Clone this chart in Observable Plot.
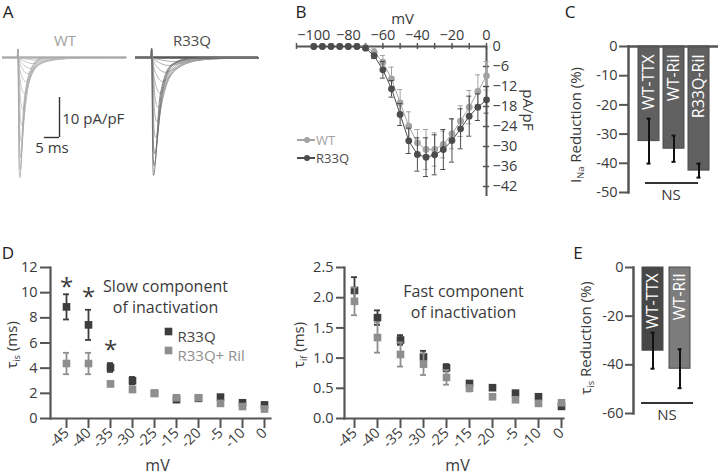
<!DOCTYPE html>
<html><head><meta charset="utf-8">
<script src="https://cdn.jsdelivr.net/npm/d3@7"></script>
<script src="https://cdn.jsdelivr.net/npm/@observablehq/plot@0.6"></script>
<style>
html,body{margin:0;padding:0;background:#fff;}
#root{position:relative;width:720px;height:475px;overflow:hidden;font-family:'Open Sans',sans-serif;color:#3a3a3a;background:#fff;}
.lbl{position:absolute;white-space:nowrap;line-height:1;}
.lbl sub{font-size:62%;vertical-align:-0.35em;line-height:0;}
</style></head><body><div id="root"></div>
<script>
// ---------- Panel A: current traces (t in ms, I in pA/pF) ----------
const wtTraces = [
  [[0,0],[4.9,0],[5.05,2],[5.3,0],[8,-0.4],[12,-0.7],[18,-0.4],[26,-0.1],[35,0],[41,0]],
  [[0,0],[4.9,0],[5.05,2],[5.3,0],[7.5,-1.0],[10,-1.5],[15,-0.8],[22,-0.25],[32,0],[41,0]],
  [[0,0],[4.9,0],[5.05,2],[5.3,0],[7,-1.8],[9,-2.7],[13,-1.4],[19,-0.4],[28,0],[41,0]],
  [[0,0],[4.9,0],[5.05,2],[5.3,0],[6.6,-2.8],[8.3,-4],[11.5,-2],[17,-0.5],[25,0],[41,0]],
  [[0,0],[4.9,0],[5.05,2],[5.3,-0.5],[6.3,-4.5],[7.7,-6],[10.5,-2.8],[15.5,-0.7],[22,0],[41,0]],
  [[0,0],[4.9,0],[5.05,2],[5.3,-1],[6.1,-7],[7.2,-9],[9.8,-4],[14,-1],[20,0],[41,0]],
  [[0,0],[4.9,0],[5.05,2],[6.0,-11],[6.8,-13],[9,-5.5],[13,-1.2],[18,0],[41,0]],
  [[0,0],[4.9,0],[5.05,2],[5.9,-15],[6.5,-17],[8.5,-7],[12,-1.5],[16,0],[41,0]],
  [[0,0],[4.9,0],[5.05,2],[5.8,-19],[6.2,-21],[8.0,-8.5],[11,-2],[15,0],[41,0]],
  [[0,0],[4.9,0],[5.05,2],[5.7,-23],[6.0,-25],[7.6,-10],[10.5,-2.2],[14,0],[41,0]],
  [[0,0],[4.9,0],[5.05,2],[5.6,-26],[5.9,-28],[7.3,-11],[10,-2.4],[13.5,0],[41,0]],
  [[0,0],[4.9,0],[5.05,2],[5.5,-28],[5.75,-30],[7.0,-12],[9.6,-2.5],[13,0],[41,0]]
];
const r33qTraces = [
  [[0,0],[5.2,0],[5.35,2.2],[5.6,0],[8.5,-0.6],[12.5,-1],[19,-0.6],[28,-0.25],[41,-0.1]],
  [[0,0],[5.2,0],[5.35,2.2],[5.6,0],[8,-1.3],[11,-2],[17,-1.1],[25,-0.4],[41,-0.1]],
  [[0,0],[5.2,0],[5.35,2.2],[5.6,0],[7.5,-2.6],[10,-3.7],[15,-2],[22,-0.6],[32,-0.15],[41,-0.1]],
  [[0,0],[5.2,0],[5.35,2.2],[5.6,-0.5],[7,-4.3],[9,-6],[13.5,-3],[20,-0.8],[30,-0.2],[41,-0.1]],
  [[0,0],[5.2,0],[5.35,2.2],[5.6,-1],[6.8,-7],[8.2,-9],[12,-4.2],[18,-1],[27,-0.2],[41,-0.1]],
  [[0,0],[5.2,0],[5.35,2.2],[6.6,-10.5],[7.6,-12.5],[11,-5.5],[16.5,-1.2],[25,-0.2],[41,-0.1]],
  [[0,0],[5.2,0],[5.35,2.2],[6.4,-14],[7.1,-16],[10.2,-6.5],[15,-1.4],[23,-0.2],[41,-0.1]],
  [[0,0],[5.2,0],[5.35,2.2],[6.2,-18],[6.7,-20],[9.5,-7.5],[14,-1.5],[21,-0.2],[41,-0.1]],
  [[0,0],[5.2,0],[5.35,2.2],[6.0,-22],[6.4,-24],[9,-8.5],[13,-1.6],[20,-0.2],[41,-0.1]],
  [[0,0],[5.2,0],[5.35,2.2],[5.9,-25],[6.2,-27],[8.6,-9],[12.5,-1.7],[19,-0.2],[41,-0.1]],
  [[0,0],[5.2,0],[5.35,2.2],[5.8,-27.5],[6.0,-29.5],[8.2,-9.5],[12,-1.8],[18,-0.2],[41,-0.1]]
];
const scaleBarMs = 5, scaleBarPA = 10;

// ---------- Panel B: I-V ----------
const bVoltages = [-100,-95,-90,-85,-80,-75,-70,-65,-60,-55,-50,-45,-40,-35,-30,-25,-20,-15,-10,-5,0];
const bWT     = [0,0,0,0,0,0,-0.3,-1.7,-4.7,-9.7,-16.9,-23.9,-28.9,-30.9,-30.9,-29.4,-26.2,-22.4,-18.2,-13.5,-8.8];
const bWTerr  = [0,0,0,0,0,0,0.3,1,2,3.5,4,4.3,4,6,5,4,4.5,4.6,5,5,4.3];
const bR33Q    = [0,0,0,0,0,0,-0.5,-2.8,-7,-12.7,-20.4,-28.3,-32.4,-33.2,-32.5,-30.9,-28.2,-24.7,-20.9,-18.2,-16];
const bR33Qerr = [0,0,0,0,0,0,0.3,0.8,2.5,2.5,3.3,3.8,5,5.8,6,6,6.5,6,6,4,4];
const bTickMarksX = [-110,-100,-90,-80,-70,-60,-50,-40,-30,-20,-10,0];
const bTickLabelsX = [-100,-80,-60,-40,-20,0];
const bTicksY = [0,-6,-12,-18,-24,-30,-36,-42];

// ---------- Panel C ----------
const cCats = ["WT-TTX","WT-Ril","R33Q-Ril"];
const cVals = [-32.4,-35,-42.5];
const cErr  = [7.7,4.5,2.4];
const cTicks = [0,-10,-20,-30,-40,-50];

// ---------- Panel D ----------
const dVoltages = ["-45","-40","-35","-30","-25","-15","-20","-5","-10","0"];
const dSlowR33Q    = [8.87,7.44,4.05,3.0,2.0,1.5,1.6,1.7,1.25,1.08];
const dSlowR33QErr = [1.0,1.2,0.35,0.3,0.1,0.2,0.1,0.1,0.1,0.1];
const dSlowRil     = [4.37,4.37,2.75,2.3,2.0,1.65,1.65,1.2,0.95,0.75];
const dSlowRilErr  = [0.85,0.85,0.2,0.15,0.1,0.1,0.1,0.15,0.1,0.1];
const dSlowTicks = [0,2,4,6,8,10,12];
const dStarVolts = ["-45","-40","-35"];
const dStarY = [10.4,9.6,5.45];
const dFastR33Q    = [2.12,1.67,1.30,1.02,0.84,0.58,0.51,0.42,0.36,0.2];
const dFastR33QErr = [0.22,0.12,0.08,0.1,0.06,0.03,0.03,0.02,0.02,0.02];
const dFastRil     = [1.94,1.34,1.06,0.9,0.68,0.5,0.36,0.31,0.25,0.26];
const dFastRilErr  = [0.23,0.25,0.2,0.18,0.12,0.05,0.03,0.03,0.03,0.03];
const dFastTicks = [0,0.5,1,1.5,2,2.5];

// ---------- Panel E ----------
const eCats = ["WT-TTX","WT-Ril"];
const eVals = [-34.2,-41.6];
const eErr  = [7.4,8];
const eTicks = [0,-20,-40,-60];

// ================= drawing =================
const root = document.getElementById("root");
const FONT = "'Open Sans', sans-serif";
const AX = "#555", TXT = "#3a3a3a";
const DARK = "#3d3d3d", GRAY = "#8e8e8e";
const style = {fontFamily: FONT, fontSize: "13px", color: TXT, background: "none", overflow: "visible"};
const minusFmt = d => d < 0 ? "\u2212" + Math.abs(d) : String(d);
const hyFmt = d => d < 0 ? "-" + Math.abs(d) : String(d);

function place(node, left, top) {
  node.style.position = "absolute";
  node.style.left = left + "px";
  node.style.top = top + "px";
  node.style.maxWidth = "none";
  root.appendChild(node);
}
function label(html, x, y, o = {}) {
  const d = document.createElement("div");
  d.className = "lbl";
  d.innerHTML = html;
  d.style.left = x + "px"; d.style.top = y + "px";
  d.style.fontSize = (o.size || 15) + "px";
  d.style.color = o.color || TXT;
  const tx = o.anchor === "start" ? "0" : "-50%";
  d.style.transform = `translate(${tx},-50%)` + (o.rotate ? ` rotate(${o.rotate}deg)` : "");
  root.appendChild(d);
}
function hline(x1, x2, y, w, color) {
  const d = document.createElement("div");
  d.style.cssText = `position:absolute;left:${x1}px;top:${y - w/2}px;width:${x2 - x1}px;height:${w}px;background:${color};`;
  root.appendChild(d);
}

// ---- Panel A ----
function tracePanel(traces, left, mL, mR, light, dark, baseColor, withBar) {
  const rows = traces.flatMap((tr, k) => tr.map(([t, i]) => ({t, i, k})));
  const n = traces.length;
  const marks = [
    Plot.ruleY([0], {stroke: baseColor, strokeWidth: 2.6}),
    Plot.line(rows.filter(d => d.k < n - 3), {x: "t", y: "i", z: "k", stroke: light, strokeWidth: 0.8, curve: "monotone-x"}),
    Plot.line(rows.filter(d => d.k >= n - 3), {x: "t", y: "i", z: "k", stroke: dark, strokeWidth: 0.8, curve: "monotone-x"})
  ];
  if (withBar) {
    const bx = 18.85;
    marks.push(
      Plot.ruleX([bx], {y1: -10, y2: -10 - scaleBarPA, stroke: "#333", strokeWidth: 1.4}),
      Plot.ruleY([-10 - scaleBarPA], {x1: bx - scaleBarMs, x2: bx, stroke: "#333", strokeWidth: 1.4}),
      Plot.text([scaleBarPA + " pA/pF"], {x: bx + 0.9, y: -15.3, textAnchor: "start", fontSize: 15, fill: TXT}),
      Plot.text([scaleBarMs + " ms"], {x: bx - scaleBarMs / 2, y: -22.6, fontSize: 15, fill: TXT})
    );
  }
  const p = Plot.plot({
    width: 130, height: 150, marginLeft: mL, marginRight: mR, marginTop: 0, marginBottom: 0,
    x: {domain: [0, 41], axis: null}, y: {domain: [-33.25, 4.25], axis: null},
    style, marks
  });
  place(p, left, 40);
}
tracePanel(wtTraces, 0, 2, 4, "#b8b8b8", "#a8a8a8", "#b0b0b0", true);
tracePanel(r33qTraces, 130, 5, 2, "#9a9a9a", "#6a6a6a", "#555", false);
label("WT", 65, 40, {color: "#a0a0a0", size: 15});
label("R33Q", 192, 40, {color: "#4a4a4a", size: 15});

// ---- Panel B ----
function errMarks(rows, xKey, color, cap, sw) {
  const r = rows.filter(d => d.e > 0);
  return [
    Plot.ruleX(r, {x: xKey, y1: d => d.v - d.e, y2: d => d.v + d.e, stroke: color, strokeWidth: sw}),
    Plot.ruleY(r, {x1: xKey, x2: xKey, y: d => d.v + d.e, insetLeft: -cap, insetRight: -cap, stroke: color, strokeWidth: sw}),
    Plot.ruleY(r, {x1: xKey, x2: xKey, y: d => d.v - d.e, insetLeft: -cap, insetRight: -cap, stroke: color, strokeWidth: sw})
  ];
}
{
  const wt = bVoltages.map((mv, i) => ({mv, v: bWT[i], e: bWTerr[i]}));
  const rq = bVoltages.map((mv, i) => ({mv, v: bR33Q[i], e: bR33Qerr[i]}));
  const BWT = "#a3a3a3", BRQ = "#4c4c4c";
  const p = Plot.plot({
    width: 260, height: 210, marginLeft: 16, marginRight: 54, marginTop: 46, marginBottom: 14,
    x: {domain: [-110, 0], axis: null}, y: {domain: [-45, 0], axis: null},
    style,
    marks: [
      Plot.ruleY([0], {stroke: AX, strokeWidth: 2}),
      Plot.ruleX([0], {stroke: AX, strokeWidth: 2}),
      Plot.ruleX(bTickMarksX, {x: d => d, y1: -0.9, y2: 0.9, stroke: AX, strokeWidth: 1.5}),
      Plot.ruleY(bTicksY.slice(1), {y: d => d, x1: -1.8, x2: 1.8, stroke: AX, strokeWidth: 1.5}),
      Plot.text(bTickLabelsX, {x: d => d, y: 0, dy: -11, text: minusFmt, fontSize: 14.5, fill: TXT}),
      Plot.text(bTicksY, {x: 0, y: d => d, dx: 6, textAnchor: "start", text: minusFmt, fontSize: 14.5, fill: TXT}),
      Plot.text(["mV"], {x: -48.6, y: 0, dy: -27, fontSize: 15, fill: TXT}),
      Plot.text(["pA/pF"], {x: 23.7, y: -19, rotate: 90, fontSize: 15, fill: TXT}),
      ...errMarks(wt, "mv", BWT, 2.5, 1),
      Plot.line(wt, {x: "mv", y: "v", stroke: BWT, strokeWidth: 1}),
      Plot.dot(wt, {x: "mv", y: "v", r: 3.4, fill: BWT}),
      ...errMarks(rq, "mv", BRQ, 2.5, 1),
      Plot.line(rq, {x: "mv", y: "v", stroke: BRQ, strokeWidth: 1}),
      Plot.dot(rq, {x: "mv", y: "v", r: 3.4, fill: BRQ})
    ]
  });
  place(p, 280, 0);
  // legend
  hline(297, 315, 140, 1.5, BWT);
  hline(297, 315, 158, 1.5, BRQ);
  const dot = (x, y, c) => { const d = document.createElement("div"); d.style.cssText = `position:absolute;left:${x-3.4}px;top:${y-3.4}px;width:6.8px;height:6.8px;border-radius:50%;background:${c};`; root.appendChild(d); };
  dot(307, 140, BWT); dot(307, 158, BRQ);
  label("WT", 316, 140, {anchor: "start", size: 13, color: BWT});
  label("R33Q", 316, 158, {anchor: "start", size: 13, color: BRQ});
}

// ---- bar panels (C, E) ----
function barPanel({cats, vals, errs, ticks, left, top, width, height, mL, mR, mT, mB, domain, pIn, pOut, fill, tickSize, topRule, textDy}) {
  const rows = cats.map((cat, i) => ({cat, v: vals[i], e: errs[i]}));
  const marks = [
    Plot.barY(rows, {x: "cat", y: "v", fill, stroke: "#4a4a4a", strokeWidth: 1}),
    Plot.text(rows, {x: "cat", y: 0, dy: textDy, rotate: -90, textAnchor: "end", text: "cat", fill: "white", fontSize: 16}),
    Plot.ruleX(rows, {x: "cat", y1: d => d.v - d.e, y2: d => d.v + d.e, stroke: "#111", strokeWidth: 2}),
    Plot.tickY(rows, {x: "cat", y: d => d.v - d.e, insetLeft: 8.5, insetRight: 8.5, stroke: "#111", strokeWidth: 2}),
    Plot.tickY(rows, {x: "cat", y: d => d.v + d.e, insetLeft: 8.5, insetRight: 8.5, stroke: "#111", strokeWidth: 2}),
    Plot.frame({anchor: "left", stroke: AX, strokeWidth: 2.5}),
    Plot.axisY({ticks, tickSize, tickPadding: 2, tickFormat: hyFmt, fontSize: 14.5, label: null, stroke: AX, strokeWidth: 2, fill: TXT})
  ];
  if (topRule) marks.push(Plot.ruleY([0], {stroke: AX, strokeWidth: 2.5}));
  const p = Plot.plot({
    width, height, marginLeft: mL, marginRight: mR, marginTop: mT, marginBottom: mB,
    x: {type: "band", domain: cats, paddingInner: pIn, paddingOuter: pOut, axis: null},
    y: {domain, axis: null},
    style, marks
  });
  place(p, left, top);
}
barPanel({cats: cCats, vals: cVals, errs: cErr, ticks: cTicks, left: 540, top: 0, width: 180, height: 200,
  mL: 88, mR: 2, mT: 46, mB: 8, domain: [-50, 0], pIn: 0.176, pOut: 0.353, fill: "#606060", tickSize: 9, topRule: true, textDy: 8});
label("I<sub>Na</sub> Reduction (%)", 575, 125, {rotate: -90, size: 15});
hline(645, 698, 183, 1.8, "#333");
label("NS", 671, 194, {size: 15});

barPanel({cats: eCats, vals: eVals, errs: eErr, ticks: eTicks, left: 560, top: 240, width: 160, height: 200,
  mL: 73, mR: 21, mT: 27, mB: 27, domain: [-60, 0], pIn: 0.214, pOut: 0.286,
  fill: d => d.cat === "WT-TTX" ? "#474747" : "#7c7c7c", tickSize: 8, topRule: false, textDy: 6});
label("\u03c4<sub>is</sub> Reduction (%)", 585, 338, {rotate: -90, size: 15});
hline(641, 693, 403, 1.8, "#333");
label("NS", 667, 414, {size: 15});

// ---- Panel D ----
function dPanel({left, width, mL, mR, range, yDomain, yTicks, tickSize, dark, darkErr, gray, grayErr, extra}) {
  const rd = dVoltages.map((mv, i) => ({mv, v: dark[i], e: darkErr[i]}));
  const rg = dVoltages.map((mv, i) => ({mv, v: gray[i], e: grayErr[i]}));
  const p = Plot.plot({
    width, height: 235, marginLeft: mL, marginRight: mR, marginTop: 27, marginBottom: 57,
    x: {type: "point", domain: dVoltages, range, padding: 0, axis: null},
    y: {domain: yDomain, axis: null},
    style,
    marks: [
      Plot.frame({anchor: "left", stroke: AX, strokeWidth: 2.2}),
      Plot.frame({anchor: "bottom", stroke: AX, strokeWidth: 2.2}),
      Plot.axisY({ticks: yTicks, tickSize, tickPadding: 3, fontSize: 14.5, label: null, stroke: AX, strokeWidth: 2, fill: TXT}),
      Plot.axisX({tickSize: 10, tickPadding: 2, tickRotate: -45, fontSize: 14.5, label: null, stroke: AX, strokeWidth: 2, fill: TXT}),
      ...errMarks(rd, "mv", DARK, 3, 1.8),
      Plot.dot(rd, {x: "mv", y: "v", symbol: "square", r: 4.3, fill: DARK}),
      ...errMarks(rg, "mv", GRAY, 3, 1.8),
      Plot.dot(rg, {x: "mv", y: "v", symbol: "square", r: 4.3, fill: GRAY}),
      ...extra
    ]
  });
  place(p, left, 240);
}
const ftext = (s, dx, dy, o = {}) => Plot.text([s], {frameAnchor: "top-left", dx, dy, fontSize: o.size || 16, fill: o.fill || TXT, textAnchor: o.anchor || "middle"});
dPanel({left: 0, width: 290, mL: 50, mR: 20, range: [62, 268], yDomain: [0, 12], yTicks: dSlowTicks, tickSize: 10,
  dark: dSlowR33Q, darkErr: dSlowR33QErr, gray: dSlowRil, grayErr: dSlowRilErr,
  extra: [
    Plot.text(dStarVolts.map((mv, i) => ({mv, y: dStarY[i]})), {x: "mv", y: "y", text: () => "*", fontSize: 24, fill: TXT}),
    ftext("Slow component", 115, 13),
    ftext("of inactivation", 115, 34),
    Plot.dot([0], {frameAnchor: "top-left", dx: 118, dy: 64, symbol: "square", r: 4.3, fill: DARK}),
    Plot.dot([0], {frameAnchor: "top-left", dx: 118, dy: 83, symbol: "square", r: 4.3, fill: GRAY}),
    ftext("R33Q", 127, 64, {anchor: "start", fill: "#444", size: 15}),
    ftext("R33Q+ Ril", 127, 83, {anchor: "start", fill: GRAY, size: 15}),
    ftext("mV", 107, 192)
  ]});
label("\u03c4<sub>is</sub> (ms)", 11, 345, {rotate: -90, size: 15});

dPanel({left: 300, width: 275, mL: 44, mR: 12, range: [54, 261], yDomain: [0, 2.5], yTicks: dFastTicks, tickSize: 8,
  dark: dFastR33Q, darkErr: dFastR33QErr, gray: dFastRil, grayErr: dFastRilErr,
  extra: [
    ftext("Fast component", 119, 18),
    ftext("of inactivation", 119, 39),
    ftext("mV", 113, 192)
  ]});
label("\u03c4<sub>if</sub> (ms)", 298, 345, {rotate: -90, size: 15});

// panel letters
[["A", 8, 11], ["B", 301, 11], ["C", 570, 11], ["D", 8, 252], ["E", 578, 252]].forEach(([s, x, y]) => label(s, x, y, {size: 17, color: "#222"}));
</script></body></html>
